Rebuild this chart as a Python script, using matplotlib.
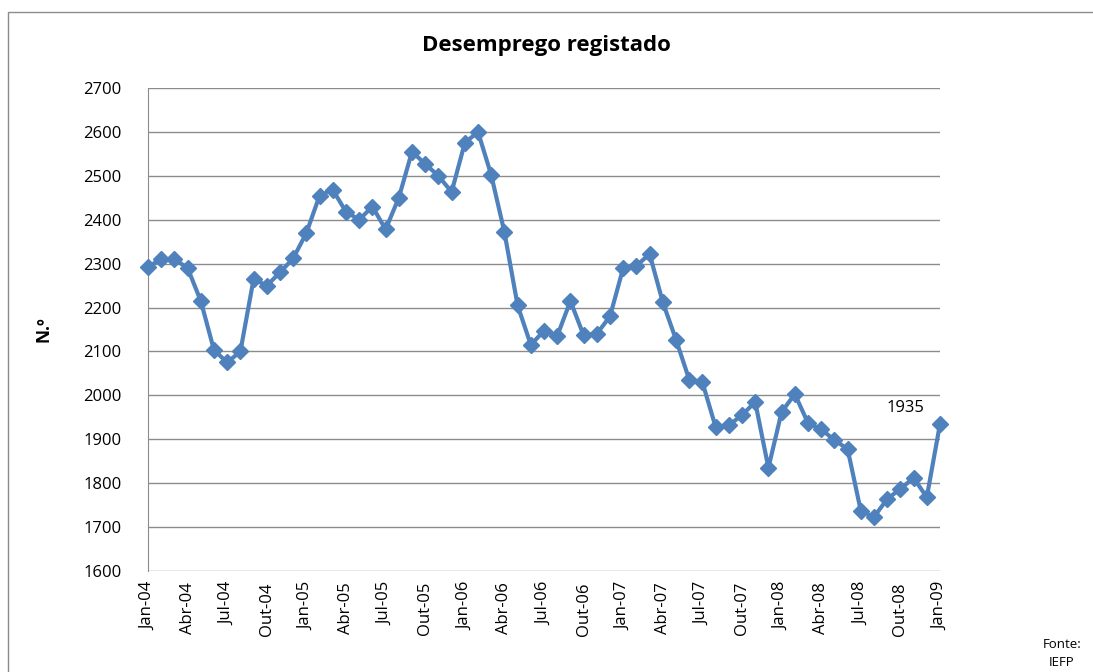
import numpy as np
import matplotlib.pyplot as plt
from matplotlib.patches import Rectangle

# monthly series Jan-04 .. Jan-09
meses = ['Jan', 'Fev', 'Mar', 'Abr', 'Mai', 'Jun', 'Jul', 'Ago', 'Set', 'Out', 'Nov', 'Dez']
anos = ['04', '05', '06', '07', '08', '09']
labels = [m + '-' + a for a in anos for m in meses][:61]

desemprego = [2293, 2310, 2310, 2290, 2215, 2103, 2075, 2100, 2265, 2250, 2280, 2312,
              2370, 2455, 2468, 2418, 2400, 2430, 2378, 2450, 2555, 2527, 2500, 2463,
              2575, 2600, 2502, 2372, 2205, 2115, 2147, 2135, 2215, 2137, 2140, 2180,
              2290, 2295, 2322, 2212, 2127, 2036, 2030, 1928, 1932, 1955, 1985, 1835,
              1962, 2003, 1937, 1923, 1898, 1878, 1737, 1723, 1764, 1787, 1812, 1768,
              1935]

font = ['Open Sans', 'DejaVu Sans']
plt.rcParams['font.family'] = font

fig = plt.figure(figsize=(10.93, 6.72), dpi=100)
ax = fig.add_axes([148 / 1093, 1 - 571 / 672, (940 - 148) / 1093, (571 - 88) / 672])

x = np.arange(len(desemprego))
ax.plot(x, desemprego, color='#4F81BD', lw=3, marker='D', ms=8.5,
        markerfacecolor='#4F81BD', markeredgecolor='#4F81BD', zorder=3, clip_on=False)

ax.set_xlim(0, 60)
ax.set_ylim(1600, 2700)
ax.set_yticks(np.arange(1600, 2701, 100))
ax.yaxis.grid(True, color='#8c8c8c', lw=1)
ax.set_axisbelow(True)

ax.set_xticks(x[::3])
ax.set_xticklabels(labels[::3], rotation=90, fontsize=12)
ax.tick_params(axis='x', length=0, pad=8)
ax.tick_params(axis='y', length=0, pad=19, labelsize=12)

for s in ['top', 'right', 'bottom']:
    ax.spines[s].set_visible(False)
ax.spines['left'].set_color('#8c8c8c')

ax.set_ylabel('N.º', fontsize=12.5, fontweight='bold', labelpad=22)
fig.text(0.5, 1 - 45 / 672, 'Desemprego registado', ha='center', va='center',
         fontsize=16, fontweight='bold')

ax.annotate(str(desemprego[-1]), (60, desemprego[-1]), xytext=(-11, 11.5),
            textcoords='offset points', fontsize=12, ha='right', va='center')

fig.text(1062 / 1093, 1 - 644 / 672, 'Fonte:', ha='center', va='center', fontsize=9.5)
fig.text(1062 / 1093, 1 - 662 / 672, 'IEFP', ha='center', va='center', fontsize=9.5)

fig.patches.append(Rectangle((8 / 1093, -0.01), 1.0, 1 - 12 / 672 + 0.01,
                             transform=fig.transFigure, fill=False,
                             edgecolor='#8c8c8c', lw=1))

fig.savefig('out.png', dpi=100)
